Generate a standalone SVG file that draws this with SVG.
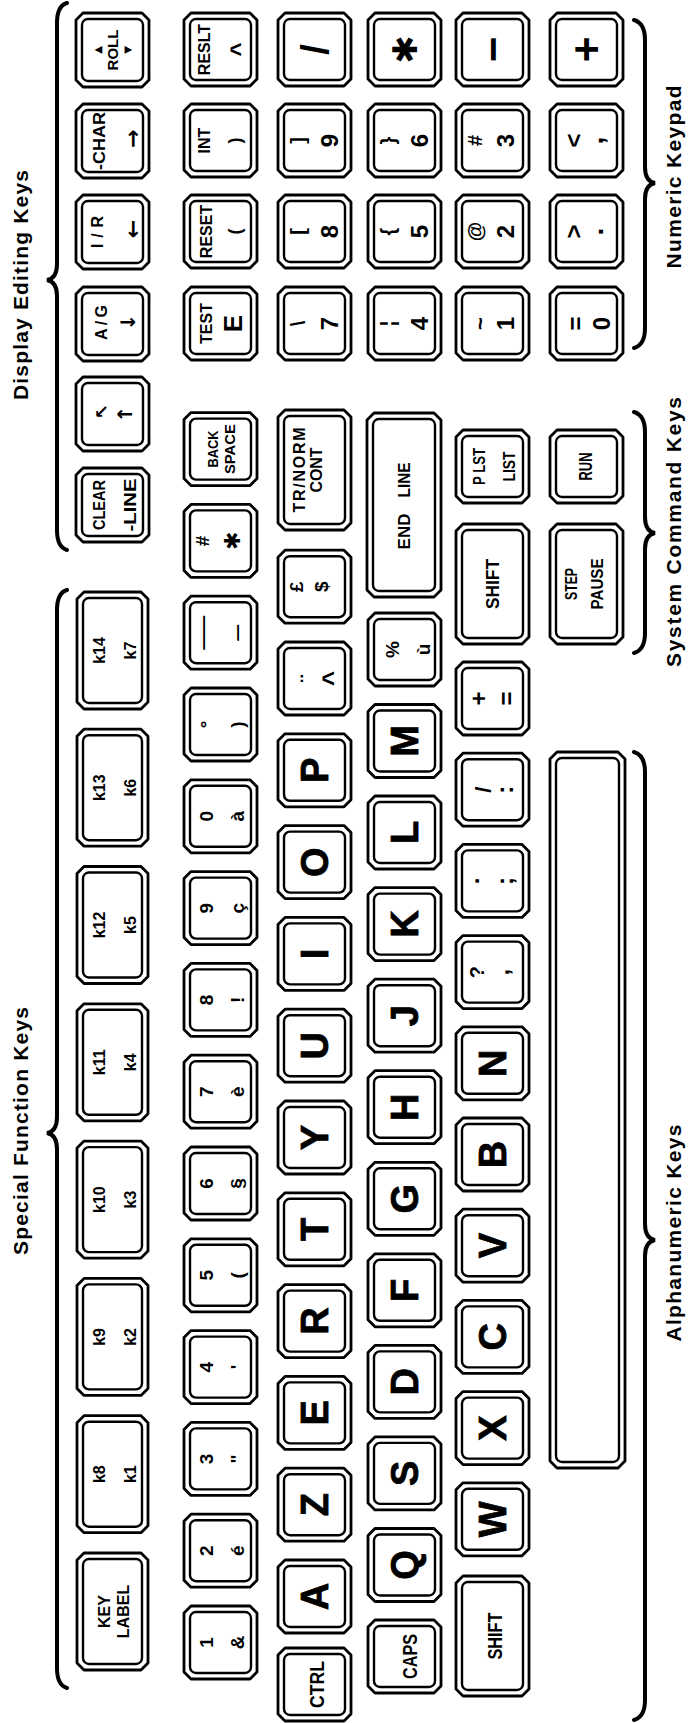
<svg xmlns="http://www.w3.org/2000/svg" width="688" height="1723" viewBox="0 0 688 1723">
<style>
.ko{fill:#fff;stroke:#000;stroke-width:2.8;stroke-linejoin:round}
.ki{fill:none;stroke:#000;stroke-width:2.4}
.br{fill:none;stroke:#000;stroke-width:4;stroke-linecap:round}
.f{font-family:"Liberation Sans",Arial,sans-serif;font-weight:bold;text-anchor:middle;fill:#000}
.sy{font-family:"DejaVu Sans",sans-serif;font-weight:bold;text-anchor:middle;dominant-baseline:central;fill:#000}
.c{dominant-baseline:central}
.a{font-size:38px;stroke:#000;stroke-width:0.8}
.n{font-size:19px}
.w{font-size:16px}
.d{font-size:24px}
.h{font-size:21px}
</style>
<defs>
<g id="kS"><path class="ko" d="M7,0H66L73,7V66L66,73H7L0,66V7Z"/><rect class="ki" x="6" y="6" width="61" height="61" rx="6"/></g>
<g id="kE"><path class="ko" d="M7,0H66L73,7V67L66,74H7L0,67V7Z"/><rect class="ki" x="6" y="6" width="61" height="62" rx="6"/></g>
<g id="kF"><path class="ko" d="M7,0H64L71,7V110L64,117H7L0,110V7Z"/><rect class="ki" x="6" y="6" width="59" height="105" rx="6"/></g>
<g id="kT"><path class="ko" d="M7,0H66L73,7V113L66,120H7L0,113V7Z"/><rect class="ki" x="6" y="6" width="61" height="108" rx="6"/></g>
<g id="kL"><path class="ko" d="M7,0H67L74,7V177L67,184H7L0,177V7Z"/><rect class="ki" x="6" y="6" width="62" height="172" rx="6"/></g>
<g id="kSP"><path class="ko" d="M7,0H68L75,7V709L68,716H7L0,709V7Z"/><rect class="ki" x="6" y="6" width="63" height="704" rx="6"/></g>
</defs>
<rect width="688" height="1723" fill="#fff"/>

<g id="braces">
<path id="brace-display" class="br" d="M67,3C60,5 57,11 57,23V264C57,274 53,279 47,280C53,281 57,286 57,296V530C57,542 60,548 67,550"/>
<path id="brace-special" class="br" d="M67,590C60,592 57,598 57,610V1117C57,1127 53,1132 47,1133C53,1134 57,1139 57,1149V1668C57,1680 60,1686 67,1688"/>
<path id="brace-numeric" class="br" d="M634,20C641,22 645,28 645,40V167C645,177 649,182 655,183C649,184 645,189 645,199V328C645,340 641,346 634,348"/>
<path id="brace-system" class="br" d="M634,412C641,414 645,420 645,432V517C645,527 649,532 655,533C649,534 645,539 645,549V633C645,645 641,651 634,653"/>
<path id="brace-alpha" class="br" d="M634,752C641,754 645,760 645,772V1224C645,1234 649,1239 655,1240C649,1241 645,1246 645,1256V1700C645,1712 641,1718 634,1720"/>
</g>

<g id="label-display"><text class="f h" transform="translate(28 285) rotate(-90)" textLength="230" lengthAdjust="spacing">Display Editing Keys</text></g>
<g id="label-special"><text class="f h" transform="translate(28 1131) rotate(-90)" textLength="248" lengthAdjust="spacing">Special Function Keys</text></g>
<g id="label-numeric"><text class="f h" transform="translate(681 177) rotate(-90)" textLength="183" lengthAdjust="spacing">Numeric Keypad</text></g>
<g id="label-system"><text class="f h" transform="translate(681 532) rotate(-90)" textLength="270" lengthAdjust="spacing">System Command Keys</text></g>
<g id="label-alpha"><text class="f h" transform="translate(681 1233) rotate(-90)" textLength="217" lengthAdjust="spacing">Alphanumeric Keys</text></g>

<!-- Function / editing row -->
<g id="key-roll"><use href="#kE" x="76" y="13"/><g transform="translate(112.5 50) rotate(-90)"><text class="f" font-size="15" y="5.5">ROLL</text><text class="sy" font-size="10" y="-15.5">▲</text><text class="sy" font-size="10" y="15">▼</text></g></g>
<g id="key-char"><use href="#kE" x="76" y="104"/><g transform="translate(112.5 141) rotate(-90)"><text class="f" font-size="16" y="-7.5" textLength="58" lengthAdjust="spacingAndGlyphs">-CHAR</text><text class="sy" font-size="22" x="2.5" y="19.5">→</text></g></g>
<g id="key-ir"><use href="#kE" x="76" y="195"/><g transform="translate(112.5 232) rotate(-90)"><text class="f" font-size="16" y="-9.5" textLength="32" lengthAdjust="spacing">I/R</text><text class="sy" font-size="22" x="3" y="20">←</text></g></g>
<g id="key-ag"><use href="#kE" x="76" y="287"/><g transform="translate(112.5 324) rotate(-90)"><text class="f" font-size="16" x="1.5" y="-5.5" textLength="35" lengthAdjust="spacing">A/G</text><text class="sy" font-size="20" x="2" y="15.5">↓</text></g></g>
<g id="key-up"><use href="#kE" x="76" y="377"/><g transform="translate(112.5 414) rotate(-90)"><text class="sy" font-size="18" x="2.5" y="-11">↖</text><text class="sy" font-size="20" y="12">↑</text></g></g>
<g id="key-clear"><use href="#kE" x="76" y="468"/><g transform="translate(112.5 505) rotate(-90)"><text class="f" font-size="17" y="-8" textLength="50" lengthAdjust="spacingAndGlyphs">CLEAR</text><text class="f" font-size="17" y="23" textLength="53" lengthAdjust="spacingAndGlyphs">-LINE</text></g></g>
<g id="key-k14"><use href="#kF" x="77" y="592"/><g transform="translate(112.5 650.5) rotate(-90)"><text class="f w" y="-7.5">k14</text><text class="f w" y="23.5">k7</text></g></g>
<g id="key-k13"><use href="#kF" x="77" y="729.2"/><g transform="translate(112.5 787.7) rotate(-90)"><text class="f w" y="-7.5">k13</text><text class="f w" y="23.5">k6</text></g></g>
<g id="key-k12"><use href="#kF" x="77" y="866.5"/><g transform="translate(112.5 925) rotate(-90)"><text class="f w" y="-7.5">k12</text><text class="f w" y="23.5">k5</text></g></g>
<g id="key-k11"><use href="#kF" x="77" y="1003.8"/><g transform="translate(112.5 1062.3) rotate(-90)"><text class="f w" y="-7.5">k11</text><text class="f w" y="23.5">k4</text></g></g>
<g id="key-k10"><use href="#kF" x="77" y="1141.1"/><g transform="translate(112.5 1199.6) rotate(-90)"><text class="f w" y="-7.5">k10</text><text class="f w" y="23.5">k3</text></g></g>
<g id="key-k9"><use href="#kF" x="77" y="1278.4"/><g transform="translate(112.5 1336.9) rotate(-90)"><text class="f w" y="-7.5">k9</text><text class="f w" y="23.5">k2</text></g></g>
<g id="key-k8"><use href="#kF" x="77" y="1415.7"/><g transform="translate(112.5 1474.2) rotate(-90)"><text class="f w" y="-7.5">k8</text><text class="f w" y="23.5">k1</text></g></g>
<g id="key-keylabel"><use href="#kF" x="77" y="1553"/><g transform="translate(112.5 1611.5) rotate(-90)"><text class="f w" y="-2.5">KEY</text><text class="f w" y="16.5">LABEL</text></g></g>

<!-- Column 1 -->
<g id="key-reslt"><use href="#kS" x="184" y="13"/><g transform="translate(220.5 49.5) rotate(-90)"><text class="f w" y="-10.5">RESLT</text><text class="f" font-size="24" y="26.5">^</text></g></g>
<g id="key-int"><use href="#kS" x="184" y="104"/><g transform="translate(220.5 140.5) rotate(-90)"><text class="f w" y="-10.5">INT</text><text class="f" font-size="18" y="20">)</text></g></g>
<g id="key-reset"><use href="#kS" x="184" y="195"/><g transform="translate(220.5 231.5) rotate(-90)"><text class="f w" y="-8.5">RESET</text><text class="f" font-size="18" y="20">(</text></g></g>
<g id="key-test"><use href="#kS" x="184" y="287"/><g transform="translate(220.5 323.5) rotate(-90)"><text class="f w" y="-8.5">TEST</text><text class="f" font-size="26" y="21.5">E</text></g></g>
<g id="key-backspace"><use href="#kS" x="184" y="412.6"/><g transform="translate(220.5 449.1) rotate(-90)"><text class="f" font-size="15" y="-2.5" textLength="37" lengthAdjust="spacingAndGlyphs">BACK</text><text class="f" font-size="15" y="14.5" textLength="50" lengthAdjust="spacingAndGlyphs">SPACE</text></g></g>
<g id="key-hash"><use href="#kS" x="184" y="504.4"/><g transform="translate(220.5 540.9) rotate(-90)"><text class="f n" y="-12">#</text><text class="sy" font-size="22" y="12">✱</text></g></g>
<g id="key-dash"><use href="#kS" x="184" y="596.2"/><g transform="translate(220.5 632.7) rotate(-90)"><text class="f n" y="-12" textLength="34" lengthAdjust="spacingAndGlyphs">—</text><text class="f n" y="22" textLength="18" lengthAdjust="spacingAndGlyphs">–</text></g></g>
<g id="key-deg"><use href="#kS" x="184" y="688"/><g transform="translate(220.5 724.5) rotate(-90)"><text class="f n" y="-8">°</text><text class="f n" y="23">)</text></g></g>
<g id="key-0"><use href="#kS" x="184" y="779.8"/><g transform="translate(220.5 816.3) rotate(-90)"><text class="f n" y="-8">0</text><text class="f n" y="23">à</text></g></g>
<g id="key-9"><use href="#kS" x="184" y="871.6"/><g transform="translate(220.5 908.1) rotate(-90)"><text class="f n" y="-8">9</text><text class="f n" y="23">ç</text></g></g>
<g id="key-8"><use href="#kS" x="184" y="963.4"/><g transform="translate(220.5 999.9) rotate(-90)"><text class="f n" y="-8">8</text><text class="f n" y="23">!</text></g></g>
<g id="key-7"><use href="#kS" x="184" y="1055.2"/><g transform="translate(220.5 1091.7) rotate(-90)"><text class="f n" y="-8">7</text><text class="f n" y="23">è</text></g></g>
<g id="key-6"><use href="#kS" x="184" y="1147"/><g transform="translate(220.5 1183.5) rotate(-90)"><text class="f n" y="-8">6</text><text class="f n" y="23">§</text></g></g>
<g id="key-5"><use href="#kS" x="184" y="1238.8"/><g transform="translate(220.5 1275.3) rotate(-90)"><text class="f n" y="-8">5</text><text class="f n" y="23">(</text></g></g>
<g id="key-4"><use href="#kS" x="184" y="1330.6"/><g transform="translate(220.5 1367.1) rotate(-90)"><text class="f n" y="-8">4</text><text class="f n" y="23">'</text></g></g>
<g id="key-3"><use href="#kS" x="184" y="1422.4"/><g transform="translate(220.5 1458.9) rotate(-90)"><text class="f n" y="-8">3</text><text class="f n" y="23">"</text></g></g>
<g id="key-2"><use href="#kS" x="184" y="1514.2"/><g transform="translate(220.5 1550.7) rotate(-90)"><text class="f n" y="-8">2</text><text class="f n" y="23">é</text></g></g>
<g id="key-1"><use href="#kS" x="184" y="1606"/><g transform="translate(220.5 1642.5) rotate(-90)"><text class="f n" y="-8">1</text><text class="f n" y="23">&amp;</text></g></g>

<!-- Column 2 -->
<g id="key-kp-slash"><use href="#kS" x="278" y="13"/><text class="f" font-size="38" transform="translate(314.5 49.5) rotate(-90)" y="13.5">/</text></g>
<g id="key-kp-9"><use href="#kS" x="278" y="104"/><g transform="translate(314.5 140.5) rotate(-90)"><text class="f" font-size="20" y="-9.5">]</text><text class="f d" y="23.5">9</text></g></g>
<g id="key-kp-8"><use href="#kS" x="278" y="195"/><g transform="translate(314.5 231.5) rotate(-90)"><text class="f" font-size="20" y="-9.5">[</text><text class="f d" y="23.5">8</text></g></g>
<g id="key-kp-7"><use href="#kS" x="278" y="287"/><g transform="translate(314.5 323.5) rotate(-90)"><text class="f" font-size="20" y="-9.5">\</text><text class="f d" y="23.5">7</text></g></g>
<g id="key-trnorm"><use href="#kT" x="278" y="410"/><g transform="translate(314.5 470) rotate(-90)"><text class="f w" y="-9.5" textLength="85" lengthAdjust="spacing">TR/NORM</text><text class="f w" y="7.5" textLength="45" lengthAdjust="spacing">CONT</text></g></g>
<g id="key-pound"><use href="#kS" x="278" y="550.2"/><g transform="translate(314.5 586.7) rotate(-90)"><text class="f n" y="-11.5">£</text><text class="f n" y="13.5">$</text></g></g>
<g id="key-uml"><use href="#kS" x="278" y="642"/><g transform="translate(314.5 678.5) rotate(-90)"><text class="f" font-size="22" y="1">¨</text><text class="f" font-size="26" y="26">^</text></g></g>
<g id="key-p"><use href="#kS" x="278" y="733.8"/><text class="f a" transform="translate(314.5 770.3) rotate(-90)" y="13">P</text></g>
<g id="key-o"><use href="#kS" x="278" y="825.6"/><text class="f a" transform="translate(314.5 862.1) rotate(-90)" y="13">O</text></g>
<g id="key-i"><use href="#kS" x="278" y="917.4"/><text class="f a" transform="translate(314.5 953.9) rotate(-90)" y="13">I</text></g>
<g id="key-u"><use href="#kS" x="278" y="1009.2"/><text class="f a" transform="translate(314.5 1045.7) rotate(-90)" y="13">U</text></g>
<g id="key-y"><use href="#kS" x="278" y="1101"/><text class="f a" transform="translate(314.5 1137.5) rotate(-90)" y="13">Y</text></g>
<g id="key-t"><use href="#kS" x="278" y="1192.8"/><text class="f a" transform="translate(314.5 1229.3) rotate(-90)" y="13">T</text></g>
<g id="key-r"><use href="#kS" x="278" y="1284.6"/><text class="f a" transform="translate(314.5 1321.1) rotate(-90)" y="13">R</text></g>
<g id="key-e"><use href="#kS" x="278" y="1376.4"/><text class="f a" transform="translate(314.5 1412.9) rotate(-90)" y="13">E</text></g>
<g id="key-z"><use href="#kS" x="278" y="1468.2"/><text class="f a" transform="translate(314.5 1504.7) rotate(-90)" y="13">Z</text></g>
<g id="key-a"><use href="#kS" x="278" y="1560"/><text class="f a" transform="translate(314.5 1596.5) rotate(-90)" y="13">A</text></g>
<g id="key-ctrl"><use href="#kS" x="278" y="1648"/><text class="f" font-size="20" transform="translate(314.5 1684.5) rotate(-90)" y="9" textLength="47" lengthAdjust="spacingAndGlyphs">CTRL</text></g>

<!-- Column 3 -->
<g id="key-kp-star"><use href="#kS" x="368" y="13"/><text class="sy" font-size="34" transform="translate(404.5 49.5) rotate(-90)">✱</text></g>
<g id="key-kp-6"><use href="#kS" x="368" y="104"/><g transform="translate(404.5 140.5) rotate(-90)"><text class="f" font-size="20" y="-9.5">}</text><text class="f d" y="23.5">6</text></g></g>
<g id="key-kp-5"><use href="#kS" x="368" y="195"/><g transform="translate(404.5 231.5) rotate(-90)"><text class="f" font-size="20" y="-9.5">{</text><text class="f d" y="23.5">5</text></g></g>
<g id="key-kp-4"><use href="#kS" x="368" y="287"/><g transform="translate(404.5 323.5) rotate(-90)"><text class="f" font-size="20" y="-9.5">¦</text><text class="f d" y="23.5">4</text></g></g>
<g id="key-endline"><use href="#kL" x="367" y="413"/><g transform="translate(404 505) rotate(-90)"><text class="f" font-size="17" x="-26.5" y="5.5">END</text><text class="f" font-size="17" x="25" y="5.5" textLength="35" lengthAdjust="spacingAndGlyphs">LINE</text></g></g>
<g id="key-pct"><use href="#kS" x="368" y="613"/><g transform="translate(404.5 649.5) rotate(-90)"><text class="f n" y="-6">%</text><text class="f n" y="25">ù</text></g></g>
<g id="key-m"><use href="#kS" x="368" y="704.5"/><text class="f a" transform="translate(404.5 741) rotate(-90)" y="13">M</text></g>
<g id="key-l"><use href="#kS" x="368" y="796"/><text class="f a" transform="translate(404.5 832.5) rotate(-90)" y="13">L</text></g>
<g id="key-k"><use href="#kS" x="368" y="887.6"/><text class="f a" transform="translate(404.5 924.1) rotate(-90)" y="13">K</text></g>
<g id="key-j"><use href="#kS" x="368" y="979.2"/><text class="f a" transform="translate(404.5 1015.7) rotate(-90)" y="13">J</text></g>
<g id="key-h"><use href="#kS" x="368" y="1070.7"/><text class="f a" transform="translate(404.5 1107.2) rotate(-90)" y="13">H</text></g>
<g id="key-g"><use href="#kS" x="368" y="1162.3"/><text class="f a" transform="translate(404.5 1198.8) rotate(-90)" y="13">G</text></g>
<g id="key-f"><use href="#kS" x="368" y="1253.8"/><text class="f a" transform="translate(404.5 1290.3) rotate(-90)" y="13">F</text></g>
<g id="key-d"><use href="#kS" x="368" y="1345.4"/><text class="f a" transform="translate(404.5 1381.9) rotate(-90)" y="13">D</text></g>
<g id="key-s"><use href="#kS" x="368" y="1436.9"/><text class="f a" transform="translate(404.5 1473.4) rotate(-90)" y="13">S</text></g>
<g id="key-q"><use href="#kS" x="368" y="1528.5"/><text class="f a" transform="translate(404.5 1565) rotate(-90)" y="13">Q</text></g>
<g id="key-caps"><use href="#kS" x="368" y="1620"/><text class="f" font-size="21" transform="translate(404.5 1656.5) rotate(-90)" y="12.5" textLength="45" lengthAdjust="spacingAndGlyphs">CAPS</text></g>

<!-- Column 4 -->
<g id="key-kp-minus"><use href="#kS" x="456" y="13"/><text class="f c" font-size="44" transform="translate(492.5 49.5) rotate(-90)">−</text></g>
<g id="key-kp-3"><use href="#kS" x="456" y="104"/><g transform="translate(492.5 140.5) rotate(-90)"><text class="f" font-size="20" y="-10.5">#</text><text class="f d" y="21">3</text></g></g>
<g id="key-kp-2"><use href="#kS" x="456" y="195"/><g transform="translate(492.5 231.5) rotate(-90)"><text class="f" font-size="20" y="-11">@</text><text class="f d" y="21">2</text></g></g>
<g id="key-kp-1"><use href="#kS" x="456" y="287"/><g transform="translate(492.5 323.5) rotate(-90)"><text class="f" font-size="22" y="-5">~</text><text class="f d" y="21">1</text></g></g>
<g id="key-plist"><use href="#kS" x="456" y="430"/><g transform="translate(492.5 466.5) rotate(-90)"><text class="f" font-size="17" y="-7.5" textLength="37" lengthAdjust="spacingAndGlyphs">P LST</text><text class="f" font-size="17" y="22.5" textLength="30" lengthAdjust="spacingAndGlyphs">LIST</text></g></g>
<g id="key-shift-r"><use href="#kT" x="456" y="524"/><text class="f" font-size="18" transform="translate(492.5 584) rotate(-90)" y="6" textLength="50" lengthAdjust="spacingAndGlyphs">SHIFT</text></g>
<g id="key-plus"><use href="#kS" x="456" y="662"/><g transform="translate(492.5 698.5) rotate(-90)"><text class="f d" y="-6">+</text><text class="f d" y="22">=</text></g></g>
<g id="key-slash"><use href="#kS" x="456" y="753.2"/><g transform="translate(492.5 789.7) rotate(-90)"><text class="f" font-size="22" y="-2">/</text><text class="f d" y="20">:</text></g></g>
<g id="key-dot"><use href="#kS" x="456" y="844.4"/><g transform="translate(492.5 880.9) rotate(-90)"><text class="f d" y="-14">.</text><text class="f d" y="20">;</text></g></g>
<g id="key-quest"><use href="#kS" x="456" y="935.6"/><g transform="translate(492.5 972.1) rotate(-90)"><text class="f" font-size="20" y="-9">?</text><text class="f d" y="16">,</text></g></g>
<g id="key-n"><use href="#kS" x="456" y="1026.8"/><text class="f a" transform="translate(492.5 1063.3) rotate(-90)" y="13">N</text></g>
<g id="key-b"><use href="#kS" x="456" y="1118"/><text class="f a" transform="translate(492.5 1154.5) rotate(-90)" y="13">B</text></g>
<g id="key-v"><use href="#kS" x="456" y="1209.2"/><text class="f a" transform="translate(492.5 1245.7) rotate(-90)" y="13">V</text></g>
<g id="key-c"><use href="#kS" x="456" y="1300.4"/><text class="f a" transform="translate(492.5 1336.9) rotate(-90)" y="13">C</text></g>
<g id="key-x"><use href="#kS" x="456" y="1391.6"/><text class="f a" transform="translate(492.5 1428.1) rotate(-90)" y="13">X</text></g>
<g id="key-w"><use href="#kS" x="456" y="1482.8"/><text class="f a" transform="translate(492.5 1519.3) rotate(-90)" y="13">W</text></g>
<g id="key-shift-l"><use href="#kT" x="456" y="1576"/><text class="f" font-size="20" transform="translate(492.5 1636) rotate(-90)" y="9.5" textLength="47" lengthAdjust="spacingAndGlyphs">SHIFT</text></g>

<!-- Column 5 -->
<g id="key-kp-plus"><use href="#kS" x="550" y="13"/><text class="f c" font-size="44" transform="translate(586.5 49.5) rotate(-90)">+</text></g>
<g id="key-kp-comma"><use href="#kS" x="550" y="104"/><g transform="translate(586.5 140.5) rotate(-90)"><text class="f d" y="-5">&lt;</text><text class="f" font-size="28" y="16">,</text></g></g>
<g id="key-kp-dot"><use href="#kS" x="550" y="195"/><g transform="translate(586.5 231.5) rotate(-90)"><text class="f d" y="-5">&gt;</text><text class="f" font-size="28" y="16.5">.</text></g></g>
<g id="key-kp-0"><use href="#kS" x="550" y="287"/><g transform="translate(586.5 323.5) rotate(-90)"><text class="f d" y="-3">=</text><text class="f d" y="23.5">0</text></g></g>
<g id="key-run"><use href="#kS" x="550" y="430"/><text class="f" font-size="18" transform="translate(586.5 466.5) rotate(-90)" y="5.5" textLength="28" lengthAdjust="spacingAndGlyphs">RUN</text></g>
<g id="key-step"><use href="#kT" x="550" y="524"/><g transform="translate(586.5 584) rotate(-90)"><text class="f w" y="-9.5" textLength="32" lengthAdjust="spacingAndGlyphs">STEP</text><text class="f w" y="16.5" textLength="51" lengthAdjust="spacingAndGlyphs">PAUSE</text></g></g>
<g id="key-space"><use href="#kSP" x="550" y="752"/></g>
</svg>
